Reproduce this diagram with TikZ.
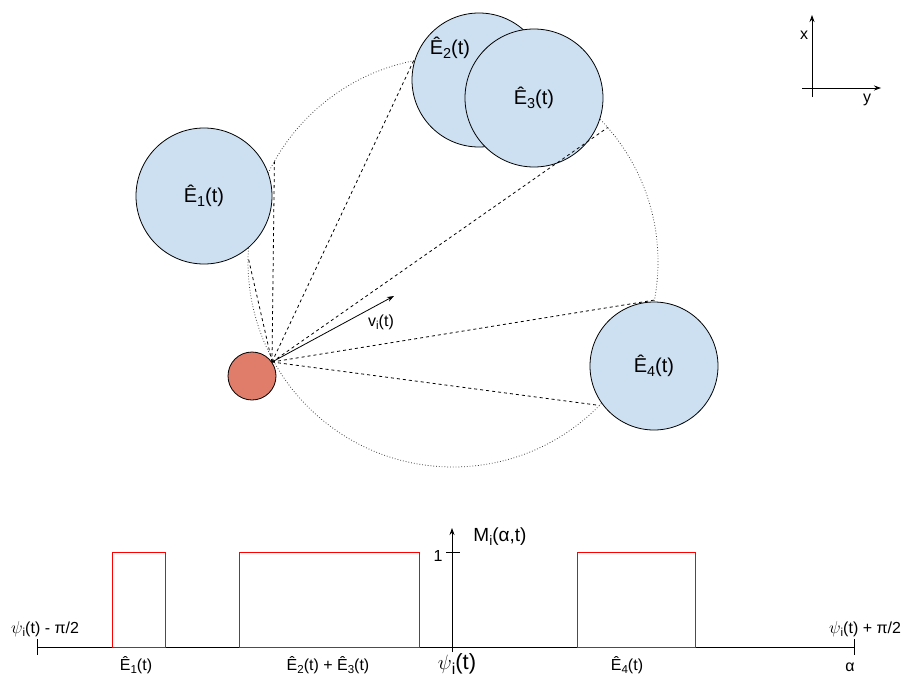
\documentclass[tikz,border=0pt]{standalone}
\usepackage{fontspec}
\setmainfont{Liberation Sans}
\usetikzlibrary{arrows.meta}
\definecolor{obsblue}{RGB}{205,224,242}
\definecolor{agentred}{RGB}{224,124,106}
\newcommand{\dn}[1]{\raisebox{-0.22em}{\scalebox{0.72}{#1}}}
\newcommand{\Eh}[1]{Ê\dn{#1}(t)}
\newcommand{\psit}{$\psi$\dn{i}(t)}

\begin{document}
\begin{tikzpicture}[x=1pt,y=-1pt,
    obs/.style={circle,draw,line width=0.8pt,fill=obsblue,inner sep=0pt,font=\fontsize{20}{20}\selectfont},
    lbl/.style={inner sep=1pt,font=\fontsize{16}{16}\selectfont},
    ar/.style={-{Stealth[length=7pt,width=5pt]}}]
    \useasboundingbox (0,0) rectangle (904,685);
    % field of view
    \coordinate (C) at (453,262);
    \draw[dotted,line width=0.8pt,black!75] (C) circle[radius=205pt];
    % obstacles
    \node[obs,minimum size=136pt] (E1) at (204,196) {\Eh{1}};
    \node[obs,minimum size=134pt] (E2) at (479,80) {};
    \node[obs,minimum size=138pt] (E3) at (534,98) {\Eh{3}};
    \node[obs,minimum size=128pt] (E4) at (654,366) {\Eh{4}};
    \node[font=\fontsize{20}{20}\selectfont,inner sep=0pt] (lE2) at (450,48) {\Eh{2}};
    \node[circle,draw,line width=0.8pt,fill=agentred,minimum size=48pt,inner sep=0pt] (ag) at (252,376) {};
    \coordinate (P) at (ag.35);
    \path (C) ++(178.6:205pt) coordinate (t1)
          (C) ++(150.6:205pt) coordinate (t2)
          (C) ++(101.1:205pt) coordinate (t3)
          (C) ++(41.0:205pt)  coordinate (t4)
          (C) ++(-10.7:205pt) coordinate (t5)
          (C) ++(-44.4:205pt) coordinate (t6);
    \foreach \t in {t1,t2,t3,t4,t5,t6}
        \draw[dashed,line width=0.8pt] (P) -- (\t);
    % velocity
    \coordinate (vtip) at (394,296);
    \draw[ar,line width=0.8pt] (P) -- (vtip);
    \node[lbl] (vl) at (381,322) {v\dn{i}(t)};
    % frame
    \coordinate (fo) at (812,88);
    \coordinate (fx) at (812,15);
    \coordinate (fy) at (881,88);
    \draw[ar,line width=0.8pt] (812,97) -- (fx);
    \draw[ar,line width=0.8pt] (802,88) -- (fy);
    \node[lbl] (xl) at (804,35) {x};
    \node[lbl] (yl) at (867,100) {y};
    % M_i(alpha,t)
    \coordinate (L) at (37,647);
    \coordinate (R) at (854,647);
    \coordinate (O) at (452,652);
    \coordinate (Mtip) at (452,528);
    \draw[line width=0.8pt] (L) -- (R);
    \draw[line width=0.8pt] (L) ++(0,-8) -- ++(0,16);
    \draw[line width=0.8pt] (R) ++(0,-8) -- ++(0,16);
    \draw[ar,line width=0.8pt] (O) -- (Mtip);
    \draw[line width=0.8pt] (446,552) -- (460,552);
    \node[lbl] (one) at (438,556) {1};
    \node[lbl,font=\fontsize{19}{19}\selectfont] (Ml) at (500,537) {M\dn{i}(α,t)};
    \draw[red,line width=0.8pt] (112,647) rectangle (165,552);
    \draw[red,line width=0.8pt] (239,647) rectangle (419,552);
    \draw[red,line width=0.8pt] (577,647) rectangle (695,552);
    \node[lbl] (b1) at (136,665) {\Eh{1}};
    \node[lbl] (b23) at (328,665) {\Eh{2} + \Eh{3}};
    \node[lbl] (b4) at (627,665) {\Eh{4}};
    \node[lbl,font=\fontsize{22}{22}\selectfont] (bpsi) at (457,664) {\psit};
    \node[lbl] (ba) at (850,667) {α};
    \node[lbl] (lo) at (45,629) {\psit{} - π/2};
    \node[lbl] (hi) at (865,629) {\psit{} + π/2};
\end{tikzpicture}
\end{document}
